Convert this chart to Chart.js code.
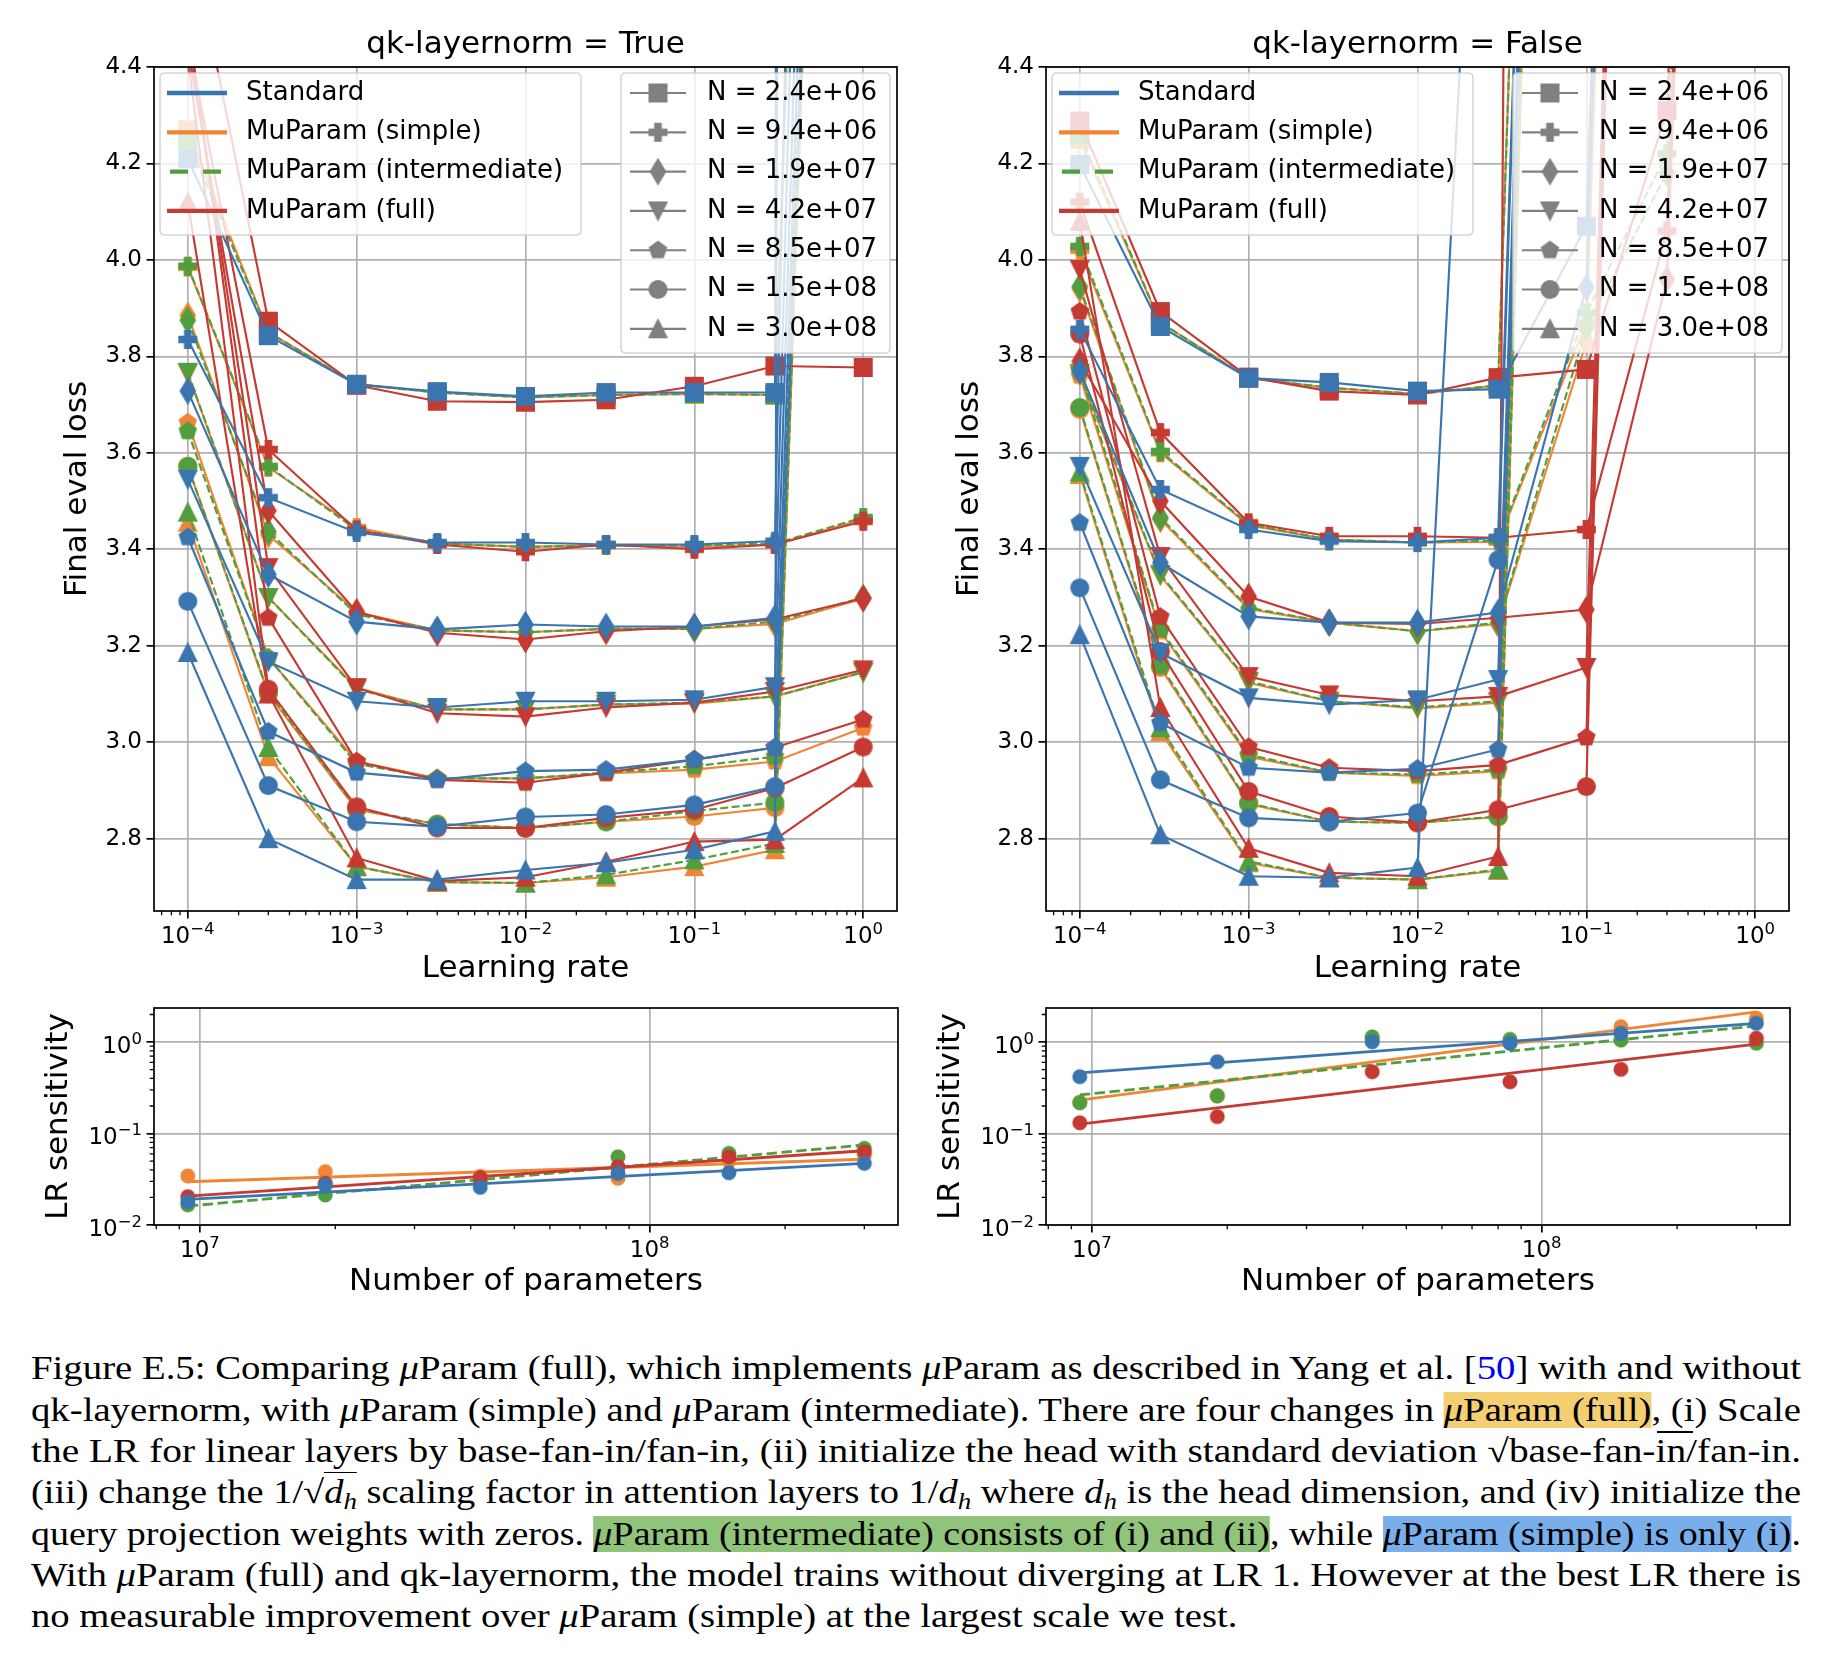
<!DOCTYPE html>
<html><head><meta charset="utf-8">
<script src="https://cdn.jsdelivr.net/npm/chart.js@4.4.1/dist/chart.umd.min.js"></script>
<style>
html,body{margin:0;padding:0;background:#fff}
body{width:1848px;height:1666px;position:relative;overflow:hidden}
canvas{position:absolute}
.cap{position:absolute;left:31px;font-family:"Liberation Serif","Times New Roman",serif;font-size:32.5px;line-height:41.33px;white-space:nowrap;transform-origin:0 0;color:#000}
.cap sub{font-size:0.7em;vertical-align:-0.28em;line-height:0}
.ov{border-top:1.5px solid #000;padding-top:1px}
.hy{background:#f3cf72}
.hg{background:#90c47a}
.hb{background:#78aeea}
.ref{color:#0000ff}
</style></head><body>
<canvas id="c1" width="924" height="990" style="left:0;top:0;width:924px;height:990px"></canvas>
<canvas id="c2" width="924" height="990" style="left:892px;top:0;width:924px;height:990px"></canvas>
<canvas id="c3" width="924" height="310" style="left:0;top:990px;width:924px;height:310px"></canvas>
<canvas id="c4" width="924" height="310" style="left:892px;top:990px;width:924px;height:310px"></canvas>

<div class="cap">Figure E.5: Comparing <i>μ</i>Param (full), which implements <i>μ</i>Param as described in Yang et al. [<span class="ref">50</span>] with and without</div>
<div class="cap">qk-layernorm, with <i>μ</i>Param (simple) and <i>μ</i>Param (intermediate). There are four changes in <span class="hy"><i>μ</i>Param (full)</span>, (i) Scale</div>
<div class="cap">the LR for linear layers by base-fan-in/fan-in, (ii) initialize the head with standard deviation √base-fan-in/fan-in.</div>
<div class="cap">(iii) change the 1/√<span class="ov"><i>d<sub>h</sub></i></span> scaling factor in attention layers to 1/<i>d<sub>h</sub></i> where <i>d<sub>h</sub></i> is the head dimension, and (iv) initialize the</div>
<div class="cap">query projection weights with zeros. <span class="hg"><i>μ</i>Param (intermediate) consists of (i) and (ii)</span>, while <span class="hb"><i>μ</i>Param (simple) is only (i)</span>.</div>
<div class="cap">With <i>μ</i>Param (full) and qk-layernorm, the model trains without diverging at LR 1. However at the best LR there is</div>
<div class="cap">no measurable improvement over <i>μ</i>Param (simple) at the largest scale we test.</div>
<div style="position:absolute;left:1657px;top:1431px;width:36px;height:1.5px;background:#000"></div>

<script>
// ---------------- data ----------------
const learningRates = [1e-4, 3e-4, 1e-3, 3e-3, 1e-2, 3e-2, 1e-1, 3e-1, 1];
const sizeLabels = ['N = 2.4e+06', 'N = 9.4e+06', 'N = 1.9e+07', 'N = 4.2e+07', 'N = 8.5e+07', 'N = 1.5e+08', 'N = 3.0e+08'];
const paramLabels = ['Standard', 'MuParam (simple)', 'MuParam (intermediate)', 'MuParam (full)'];
const lossTickValues = [2.8, 3.0, 3.2, 3.4, 3.6, 3.8, 4.0, 4.2, 4.4];
const lossTickLabels = ['2.8', '3.0', '3.2', '3.4', '3.6', '3.8', '4.0', '4.2', '4.4'];
const lrTickValues = [1e-4, 1e-3, 1e-2, 1e-1, 1];
const lrTickExponents = ['−4', '−3', '−2', '−1', '0'];
const sensTickValues = [0.01, 0.1, 1];
const sensTickExponents = ['−2', '−1', '0'];
const paramCountTickValues = [1e7, 1e8];
const paramCountTickExponents = ['7', '8'];

// qk-layernorm = True : rows = N sizes, columns = learning rates
const lossQkTrueStandard = [
  [4.21, 3.843, 3.742, 3.727, 3.717, 3.725, 3.725, 3.725, 100],
  [3.835, 3.507, 3.435, 3.414, 3.414, 3.41, 3.41, 3.417, 12],
  [3.728, 3.348, 3.25, 3.234, 3.244, 3.24, 3.24, 3.258, 10],
  [3.545, 3.167, 3.085, 3.072, 3.085, 3.085, 3.088, 3.115, 9],
  [3.425, 3.022, 2.937, 2.922, 2.94, 2.943, 2.964, 2.989, 8.5],
  [3.292, 2.91, 2.835, 2.825, 2.845, 2.85, 2.87, 2.908, 8],
  [3.186, 2.80, 2.715, 2.715, 2.735, 2.75, 2.777, 2.815, 100]
];
const lossQkTrueSimple = [
  [4.27, 3.85, 3.742, 3.725, 3.715, 3.72, 3.722, 3.72, 9],
  [3.985, 3.57, 3.445, 3.412, 3.405, 3.408, 3.405, 3.41, 3.462],
  [3.885, 3.43, 3.27, 3.232, 3.228, 3.235, 3.235, 3.245, 3.298],
  [3.765, 3.30, 3.113, 3.068, 3.068, 3.078, 3.08, 3.095, 3.145],
  [3.663, 3.175, 2.96, 2.925, 2.925, 2.935, 2.943, 2.96, 3.03],
  [3.572, 3.10, 2.86, 2.83, 2.822, 2.835, 2.846, 2.864, 8],
  [3.456, 2.97, 2.742, 2.71, 2.708, 2.72, 2.742, 2.777, 8]
];
const lossQkTrueIntermediate = [
  [4.25, 3.85, 3.742, 3.725, 3.715, 3.72, 3.722, 3.72, 9],
  [3.987, 3.572, 3.44, 3.412, 3.405, 3.408, 3.408, 3.412, 3.466],
  [3.875, 3.437, 3.265, 3.232, 3.228, 3.235, 3.235, 3.25, 3.30],
  [3.767, 3.30, 3.11, 3.068, 3.068, 3.078, 3.082, 3.095, 3.145],
  [3.645, 3.175, 2.955, 2.925, 2.925, 2.937, 2.95, 2.97, 8],
  [3.572, 3.103, 2.862, 2.83, 2.822, 2.835, 2.857, 2.875, 8],
  [3.477, 2.989, 2.742, 2.71, 2.708, 2.725, 2.756, 2.79, 8]
];
const lossQkTrueFull = [
  [4.7, 3.873, 3.74, 3.707, 3.705, 3.71, 3.738, 3.78, 3.777],
  [4.46, 3.607, 3.44, 3.41, 3.395, 3.41, 3.40, 3.41, 3.458],
  [4.44, 3.48, 3.27, 3.227, 3.213, 3.23, 3.24, 3.255, 3.298],
  [4.48, 3.362, 3.113, 3.06, 3.053, 3.072, 3.082, 3.105, 3.15],
  [4.5, 3.258, 2.96, 2.922, 2.916, 2.937, 2.964, 2.989, 3.047],
  [4.42, 3.11, 2.866, 2.822, 2.822, 2.843, 2.86, 2.905, 2.99],
  [4.12, 3.10, 2.76, 2.712, 2.72, 2.752, 2.794, 2.798, 2.926]
];

// qk-layernorm = False
const lossQkFalseStandard = [
  [4.198, 3.862, 3.755, 3.746, 3.728, 3.732, 4.07, 9, 9],
  [3.856, 3.524, 3.441, 3.417, 3.414, 3.424, 9, 9, 9],
  [3.77, 3.372, 3.261, 3.248, 3.248, 3.269, 3.943, 9, 9],
  [3.572, 3.185, 3.092, 3.078, 3.088, 3.13, 9, 9, 9],
  [3.455, 3.04, 2.947, 2.937, 2.945, 2.985, 9, 9, 9],
  [3.32, 2.922, 2.843, 2.835, 2.853, 3.378, 9, 9, 9],
  [3.223, 2.808, 2.722, 2.719, 2.74, 5.9, 9, 9, 9]
];
const lossQkFalseSimple = [
  [4.25, 3.87, 3.755, 3.735, 3.722, 3.74, 9, 9, 9],
  [4.02, 3.60, 3.45, 3.42, 3.414, 3.415, 3.87, 9, 9],
  [3.94, 3.462, 3.276, 3.248, 3.23, 3.245, 3.83, 9, 9],
  [3.76, 3.345, 3.123, 3.085, 3.07, 3.082, 9, 9, 9],
  [3.76, 3.23, 2.97, 2.937, 2.93, 2.94, 9, 9, 9],
  [3.69, 3.155, 2.872, 2.835, 2.833, 2.845, 9, 9, 9],
  [3.555, 3.022, 2.75, 2.719, 2.715, 2.734, 9, 9, 9]
];
const lossQkFalseIntermediate = [
  [4.26, 3.87, 3.755, 3.735, 3.722, 3.74, 9, 9, 9],
  [4.028, 3.603, 3.452, 3.42, 3.414, 3.418, 3.89, 4.22, 9],
  [3.945, 3.466, 3.279, 3.248, 3.23, 3.248, 3.86, 4.18, 9],
  [3.765, 3.348, 3.126, 3.085, 3.072, 3.085, 9, 9, 9],
  [3.77, 3.234, 2.974, 2.937, 2.933, 2.943, 9, 9, 9],
  [3.694, 3.16, 2.874, 2.835, 2.833, 2.846, 9, 9, 9],
  [3.56, 3.03, 2.753, 2.719, 2.715, 2.736, 9, 9, 9]
];
const lossQkFalseFull = [
  [4.288, 3.893, 3.757, 3.728, 3.72, 3.756, 3.773, 4.31, 9],
  [4.12, 3.642, 3.455, 3.427, 3.427, 3.424, 3.441, 4.06, 9],
  [3.79, 3.50, 3.302, 3.248, 3.245, 3.258, 3.275, 3.96, 9],
  [3.98, 3.385, 3.136, 3.098, 3.085, 3.095, 3.155, 9, 9],
  [3.893, 3.26, 2.99, 2.947, 2.94, 2.953, 3.01, 9, 9],
  [3.846, 3.188, 2.898, 2.846, 2.833, 2.86, 2.908, 9, 9],
  [4.08, 3.072, 2.78, 2.729, 2.722, 2.763, 30, 9, 9]
];

// LR sensitivity
const sensModelSizes = [9.4e6, 1.9e7, 4.2e7, 8.5e7, 1.5e8, 3.0e8];
const fitModelSizes = [9.4e6, 3.0e8];
const sensQkTrueStandard = [0.018, 0.0274, 0.0258, 0.0367, 0.0373, 0.0472];
const sensQkTrueSimple = [0.0344, 0.0383, 0.034, 0.0324, 0.05, 0.058];
const sensQkTrueIntermediate = [0.0166, 0.0213, 0.030, 0.0557, 0.0607, 0.0689];
const sensQkTrueFull = [0.0204, 0.0286, 0.033, 0.0434, 0.0557, 0.0632];
const fitQkTrueStandard = [0.0191, 0.0472];
const fitQkTrueSimple = [0.0297, 0.0523];
const fitQkTrueIntermediate = [0.0161, 0.075];
const fitQkTrueFull = [0.0207, 0.0648];

const sensQkFalseStandard = [0.418, 0.609, 1.007, 0.968, 1.245, 1.6];
const sensQkFalseSimple = [0.22, 0.26, 1.1, 1.0, 1.47, 1.82];
const sensQkFalseIntermediate = [0.217, 0.257, 1.14, 1.07, 1.05, 0.97];
const sensQkFalseFull = [0.131, 0.153, 0.474, 0.368, 0.503, 1.1];
const fitQkFalseStandard = [0.46, 1.6];
const fitQkFalseSimple = [0.232, 2.14];
const fitQkFalseIntermediate = [0.264, 1.5];
const fitQkFalseFull = [0.127, 0.95];

// ---------------- styles ----------------
const BLUE = '#3b75af', ORANGE = '#ef8636', GREEN = '#519e3e', RED = '#c53a32', GRAY = '#808080';
const FONT = '"DejaVu Sans", "Noto Sans", sans-serif';
Chart.defaults.font.family = FONT;
Chart.defaults.color = '#000';

const paramStyles = [
  {color: BLUE, dash: [], order: 0},
  {color: ORANGE, dash: [], order: 3},
  {color: GREEN, dash: [7.96, 3.44], order: 2},
  {color: RED, dash: [], order: 1}
];
const markerShapes = ['square', 'plus', 'thinDiamond', 'triDown', 'pentagon', 'circle', 'triUp'];

function makeMarker(shape, color, ms, ew) {
  const size = Math.ceil(ms * 1.8 + ew * 2 + 4);
  const c = document.createElement('canvas');
  c.width = size; c.height = size;
  const g = c.getContext('2d');
  const cx = size / 2, cy = size / 2, r = ms / 2;
  g.fillStyle = color; g.strokeStyle = color; g.lineWidth = ew; g.lineJoin = 'miter';
  g.beginPath();
  if (shape === 'square') {
    g.rect(cx - r, cy - r, 2 * r, 2 * r);
  } else if (shape === 'circle') {
    g.arc(cx, cy, r, 0, Math.PI * 2);
  } else if (shape === 'triUp') {
    g.moveTo(cx, cy - r); g.lineTo(cx + r, cy + r); g.lineTo(cx - r, cy + r); g.closePath();
  } else if (shape === 'triDown') {
    g.moveTo(cx, cy + r); g.lineTo(cx + r, cy - r); g.lineTo(cx - r, cy - r); g.closePath();
  } else if (shape === 'thinDiamond') {
    const hh = r * 1.414, hw = hh * 0.6;
    g.moveTo(cx, cy - hh); g.lineTo(cx + hw, cy); g.lineTo(cx, cy + hh); g.lineTo(cx - hw, cy); g.closePath();
  } else if (shape === 'pentagon') {
    for (let k = 0; k < 5; k++) {
      const a = -Math.PI / 2 + k * 2 * Math.PI / 5;
      const px = cx + r * Math.cos(a), py = cy + r * Math.sin(a);
      if (k === 0) g.moveTo(px, py); else g.lineTo(px, py);
    }
    g.closePath();
  } else if (shape === 'plus') {
    const t = r / 3;
    const pts = [[-t,-r],[t,-r],[t,-t],[r,-t],[r,t],[t,t],[t,r],[-t,r],[-t,t],[-r,t],[-r,-t],[-t,-t]];
    pts.forEach((p, i) => { if (i === 0) g.moveTo(cx + p[0], cy + p[1]); else g.lineTo(cx + p[0], cy + p[1]); });
    g.closePath();
  }
  g.fill(); g.stroke();
  return c;
}

const lossMarkers = paramStyles.map(ps => markerShapes.map(s => makeMarker(s, ps.color, 17, 2)));
const grayMarkers = markerShapes.map(s => makeMarker(s, GRAY, 17, 2));
const sensMarkers = paramStyles.map(ps => makeMarker('circle', ps.color, 13, 2));

// ---------------- decorations ----------------
function roundRect(ctx, x, y, w, h, r) {
  ctx.beginPath();
  ctx.moveTo(x + r, y); ctx.lineTo(x + w - r, y); ctx.quadraticCurveTo(x + w, y, x + w, y + r);
  ctx.lineTo(x + w, y + h - r); ctx.quadraticCurveTo(x + w, y + h, x + w - r, y + h);
  ctx.lineTo(x + r, y + h); ctx.quadraticCurveTo(x, y + h, x, y + h - r);
  ctx.lineTo(x, y + r); ctx.quadraticCurveTo(x, y, x + r, y); ctx.closePath();
}
function drawLegend(ctx, lg) {
  ctx.save();
  roundRect(ctx, lg.x, lg.y, lg.w, lg.h, 5);
  ctx.fillStyle = 'rgba(255,255,255,0.8)'; ctx.fill();
  ctx.strokeStyle = 'rgba(204,204,204,0.8)'; ctx.lineWidth = 1.6; ctx.stroke();
  lg.items.forEach((it, i) => {
    const y = lg.firstY + i * lg.step;
    ctx.strokeStyle = it.color; ctx.lineWidth = it.lw;
    ctx.setLineDash(it.dash || []); ctx.lineDashOffset = it.dashOffset || 0;
    ctx.beginPath(); ctx.moveTo(lg.hx0, y); ctx.lineTo(lg.hx1, y); ctx.stroke();
    ctx.setLineDash([]);
    if (it.marker) ctx.drawImage(it.marker, (lg.hx0 + lg.hx1) / 2 - it.marker.width / 2, y - it.marker.height / 2);
    ctx.fillStyle = '#000'; ctx.font = '26px ' + FONT; ctx.textAlign = 'left'; ctx.textBaseline = 'middle';
    ctx.fillText(it.label, lg.tx, y);
  });
  ctx.restore();
}
function drawMinor(ctx, scale, area, axis) {
  const lo = Math.log10(scale.min), hi = Math.log10(scale.max);
  ctx.beginPath();
  for (let e = Math.floor(lo); e <= Math.ceil(hi); e++) {
    for (let m = 2; m <= 9; m++) {
      const v = m * Math.pow(10, e), lv = Math.log10(v);
      if (lv < lo || lv > hi) continue;
      const p = scale.getPixelForValue(v);
      if (axis === 'x') { ctx.moveTo(p, area.bottom); ctx.lineTo(p, area.bottom + 4.3); }
      else { ctx.moveTo(area.left, p); ctx.lineTo(area.left - 4.3, p); }
    }
  }
  ctx.lineWidth = 1.3; ctx.strokeStyle = '#000'; ctx.stroke();
}
// power-of-ten tick labels, drawn as "10" with a raised exponent
function drawPowLabels(ctx, scale, area, axis, values, exps) {
  const baseFont = '23px ' + FONT, supFont = '16.5px ' + FONT;
  ctx.fillStyle = '#000'; ctx.textBaseline = 'alphabetic'; ctx.textAlign = 'left';
  values.forEach((v, i) => {
    const p = scale.getPixelForValue(v);
    ctx.font = baseFont; const wb = ctx.measureText('10').width;
    ctx.font = supFont; const ws = ctx.measureText(exps[i]).width;
    const W = wb + ws;
    let x0, base;
    if (axis === 'x') { x0 = p - W / 2; base = area.bottom + 32; }
    else { x0 = area.left - 12 - W; base = p + 10.5; }
    ctx.font = baseFont; ctx.fillText('10', x0, base);
    ctx.font = supFont; ctx.fillText(exps[i], x0 + wb, base - 9);
  });
}

const paramLegendItems = paramLabels.map((l, i) => ({
  label: l, color: paramStyles[i].color, lw: 4.3,
  dash: i === 2 ? [18, 15] : [], dashOffset: i === 2 ? 30 : 0
}));
const sizeLegendItems = sizeLabels.map((l, i) => ({label: l, color: GRAY, lw: 2.15, marker: grayMarkers[i]}));
const paramLegend = {x: 160, y: 73, w: 421, h: 162, firstY: 93, step: 39.3, hx0: 167, hx1: 227, tx: 246, items: paramLegendItems};
const sizeLegend = {x: 621, y: 73, w: 269, h: 280, firstY: 93, step: 39.3, hx0: 630, hx1: 686, tx: 707, items: sizeLegendItems};

const decorConfigs = {
  c1: {title: 'qk-layernorm = True', titleY: 45, xLabel: 'Learning rate', xLabelY: 969, yLabel: 'Final eval loss', yLabelX: 78,
       minorY: false, xTicks: [lrTickValues, lrTickExponents], yTicks: null, legends: [paramLegend, sizeLegend]},
  c2: {title: 'qk-layernorm = False', titleY: 45, xLabel: 'Learning rate', xLabelY: 969, yLabel: 'Final eval loss', yLabelX: 78,
       minorY: false, xTicks: [lrTickValues, lrTickExponents], yTicks: null, legends: [paramLegend, sizeLegend]},
  c3: {xLabel: 'Number of parameters', xLabelY: 292, yLabel: 'LR sensitivity', yLabelX: 59,
       minorY: true, xTicks: [paramCountTickValues, paramCountTickExponents], yTicks: [sensTickValues, sensTickExponents], legends: []},
  c4: {xLabel: 'Number of parameters', xLabelY: 292, yLabel: 'LR sensitivity', yLabelX: 59,
       minorY: true, xTicks: [paramCountTickValues, paramCountTickExponents], yTicks: [sensTickValues, sensTickExponents], legends: []}
};

const decorPlugin = {
  id: 'decor',
  afterDatasetsDraw(chart) {
    const cfg = decorConfigs[chart.canvas.id];
    cfg.legends.forEach(lg => drawLegend(chart.ctx, lg));
  },
  afterDraw(chart) {
    const cfg = decorConfigs[chart.canvas.id];
    const ctx = chart.ctx, a = chart.chartArea;
    ctx.save();
    drawMinor(ctx, chart.scales.x, a, 'x');
    if (cfg.minorY) drawMinor(ctx, chart.scales.y, a, 'y');
    ctx.strokeStyle = '#000'; ctx.lineWidth = 1.7;
    ctx.strokeRect(a.left, a.top, a.right - a.left, a.bottom - a.top);
    if (cfg.xTicks) drawPowLabels(ctx, chart.scales.x, a, 'x', cfg.xTicks[0], cfg.xTicks[1]);
    if (cfg.yTicks) drawPowLabels(ctx, chart.scales.y, a, 'y', cfg.yTicks[0], cfg.yTicks[1]);
    ctx.fillStyle = '#000'; ctx.font = '31px ' + FONT; ctx.textAlign = 'center'; ctx.textBaseline = 'middle';
    const cx = (a.left + a.right) / 2;
    if (cfg.title) ctx.fillText(cfg.title, cx, cfg.titleY);
    ctx.fillText(cfg.xLabel, cx, cfg.xLabelY);
    ctx.translate(cfg.yLabelX, (a.top + a.bottom) / 2);
    ctx.rotate(-Math.PI / 2);
    ctx.fillText(cfg.yLabel, 0, 0);
    ctx.restore();
  }
};

const gridOpts = {color: '#b0b0b0', lineWidth: 1.7, tickColor: '#000', tickLength: 7.5, tickWidth: 1.7};
const tickFont = {size: 23, family: FONT};

function lossChart(id, seriesByParam) {
  const datasets = [];
  paramStyles.forEach((ps, pi) => {
    seriesByParam[pi].forEach((row, ni) => {
      datasets.push({
        label: paramLabels[pi] + ', ' + sizeLabels[ni],
        data: row.map((y, i) => ({x: learningRates[i], y: y})),
        borderColor: ps.color, backgroundColor: ps.color, borderWidth: 2.15, borderDash: ps.dash,
        pointStyle: lossMarkers[pi][ni], pointRadius: 10, pointHoverRadius: 10, pointBorderWidth: 0,
        tension: 0, fill: false, clip: 0, order: ps.order
      });
    });
  });
  return new Chart(document.getElementById(id), {
    type: 'line',
    data: {datasets},
    options: {
      responsive: false, animation: false, devicePixelRatio: 1, events: [],
      layout: {padding: {left: 0, right: 27, top: 67, bottom: 0}},
      plugins: {legend: {display: false}, tooltip: {enabled: false}},
      scales: {
        x: {
          type: 'logarithmic', min: Math.pow(10, -4.2), max: Math.pow(10, 0.2),
          afterBuildTicks: s => { s.ticks = lrTickValues.map(v => ({value: v})); },
          afterFit: s => { s.height = 79; },
          ticks: {callback: () => '', maxRotation: 0, autoSkip: false, font: tickFont, padding: 4},
          grid: gridOpts, border: {display: false}
        },
        y: {
          type: 'linear', min: 2.65, max: 4.4,
          afterBuildTicks: s => { s.ticks = lossTickValues.map(v => ({value: v})); },
          afterFit: s => { s.width = 154; },
          ticks: {callback: v => lossTickLabels[lossTickValues.indexOf(v)], font: tickFont, color: '#000', padding: 4.5},
          grid: gridOpts, border: {display: false}
        }
      }
    },
    plugins: [decorPlugin]
  });
}

function sensChart(id, pointsByParam, fitsByParam) {
  const datasets = [];
  paramStyles.forEach((ps, pi) => {
    datasets.push({
      label: paramLabels[pi] + ' points',
      data: pointsByParam[pi].map((y, i) => ({x: sensModelSizes[i], y: y})),
      showLine: false, pointStyle: sensMarkers[pi], pointRadius: 8, pointBorderWidth: 0,
      borderColor: ps.color, backgroundColor: ps.color, clip: 0, order: ps.order
    });
    datasets.push({
      label: paramLabels[pi] + ' fit',
      data: fitsByParam[pi].map((y, i) => ({x: fitModelSizes[i], y: y})),
      borderColor: ps.color, borderWidth: 2.8, borderDash: ps.dash.length ? [10.4, 4.5] : [],
      pointRadius: 0, tension: 0, fill: false, clip: 0, order: ps.order
    });
  });
  return new Chart(document.getElementById(id), {
    type: 'line',
    data: {datasets},
    options: {
      responsive: false, animation: false, devicePixelRatio: 1, events: [],
      layout: {padding: {left: 0, right: 26, top: 18, bottom: 0}},
      plugins: {legend: {display: false}, tooltip: {enabled: false}},
      scales: {
        x: {
          type: 'logarithmic', min: Math.pow(10, 6.898), max: Math.pow(10, 8.552),
          afterBuildTicks: s => { s.ticks = paramCountTickValues.map(v => ({value: v})); },
          afterFit: s => { s.height = 75; },
          ticks: {callback: () => '', maxRotation: 0, autoSkip: false, font: tickFont, padding: 4},
          grid: gridOpts, border: {display: false}
        },
        y: {
          type: 'logarithmic', min: 0.01, max: Math.pow(10, 0.372),
          afterBuildTicks: s => { s.ticks = sensTickValues.map(v => ({value: v})); },
          afterFit: s => { s.width = 154; },
          ticks: {callback: () => '', font: tickFont, padding: 4},
          grid: gridOpts, border: {display: false}
        }
      }
    },
    plugins: [decorPlugin]
  });
}

lossChart('c1', [lossQkTrueStandard, lossQkTrueSimple, lossQkTrueIntermediate, lossQkTrueFull]);
lossChart('c2', [lossQkFalseStandard, lossQkFalseSimple, lossQkFalseIntermediate, lossQkFalseFull]);
sensChart('c3', [sensQkTrueStandard, sensQkTrueSimple, sensQkTrueIntermediate, sensQkTrueFull],
                [fitQkTrueStandard, fitQkTrueSimple, fitQkTrueIntermediate, fitQkTrueFull]);
sensChart('c4', [sensQkFalseStandard, sensQkFalseSimple, sensQkFalseIntermediate, sensQkFalseFull],
                [fitQkFalseStandard, fitQkFalseSimple, fitQkFalseIntermediate, fitQkFalseFull]);

// caption: pick a size matching the reference cap height, then justify each line
(function () {
  const m = document.createElement('canvas').getContext('2d');
  const probe = 'abcdefghijklmnopqrstuvwxyzABCDEFG';
  m.font = '100px "Liberation Serif", monospace'; const w1 = m.measureText(probe).width;
  m.font = '100px monospace'; const w2 = m.measureText(probe).width;
  const hasLib = Math.abs(w1 - w2) > 1;
  const fontSize = hasLib ? 32.8 : 29.8;
  const asc = hasLib ? 0.891 : 0.928, desc = hasLib ? 0.216 : 0.236;
  const lh = 41.33;
  const lines = Array.from(document.querySelectorAll('.cap'));
  lines.forEach((el, i) => {
    el.style.fontFamily = hasLib ? '"Liberation Serif", serif' : '"DejaVu Serif", serif';
    el.style.fontSize = fontSize + 'px';
    const content = (asc + desc) * fontSize;
    const baselineOffset = (lh - content) / 2 + asc * fontSize;
    el.style.top = (1380 + i * lh - baselineOffset) + 'px';
  });
  const target = 1770;
  const factors = [];
  lines.forEach((el, i) => {
    if (i === lines.length - 1) return;
    const w = el.getBoundingClientRect().width;
    const f = target / w;
    factors.push(f);
    el.style.transform = 'scaleX(' + f + ')';
  });
  const avg = factors.reduce((a, b) => a + b, 0) / factors.length;
  lines[lines.length - 1].style.transform = 'scaleX(' + avg + ')';
})();
</script>
</body></html>
